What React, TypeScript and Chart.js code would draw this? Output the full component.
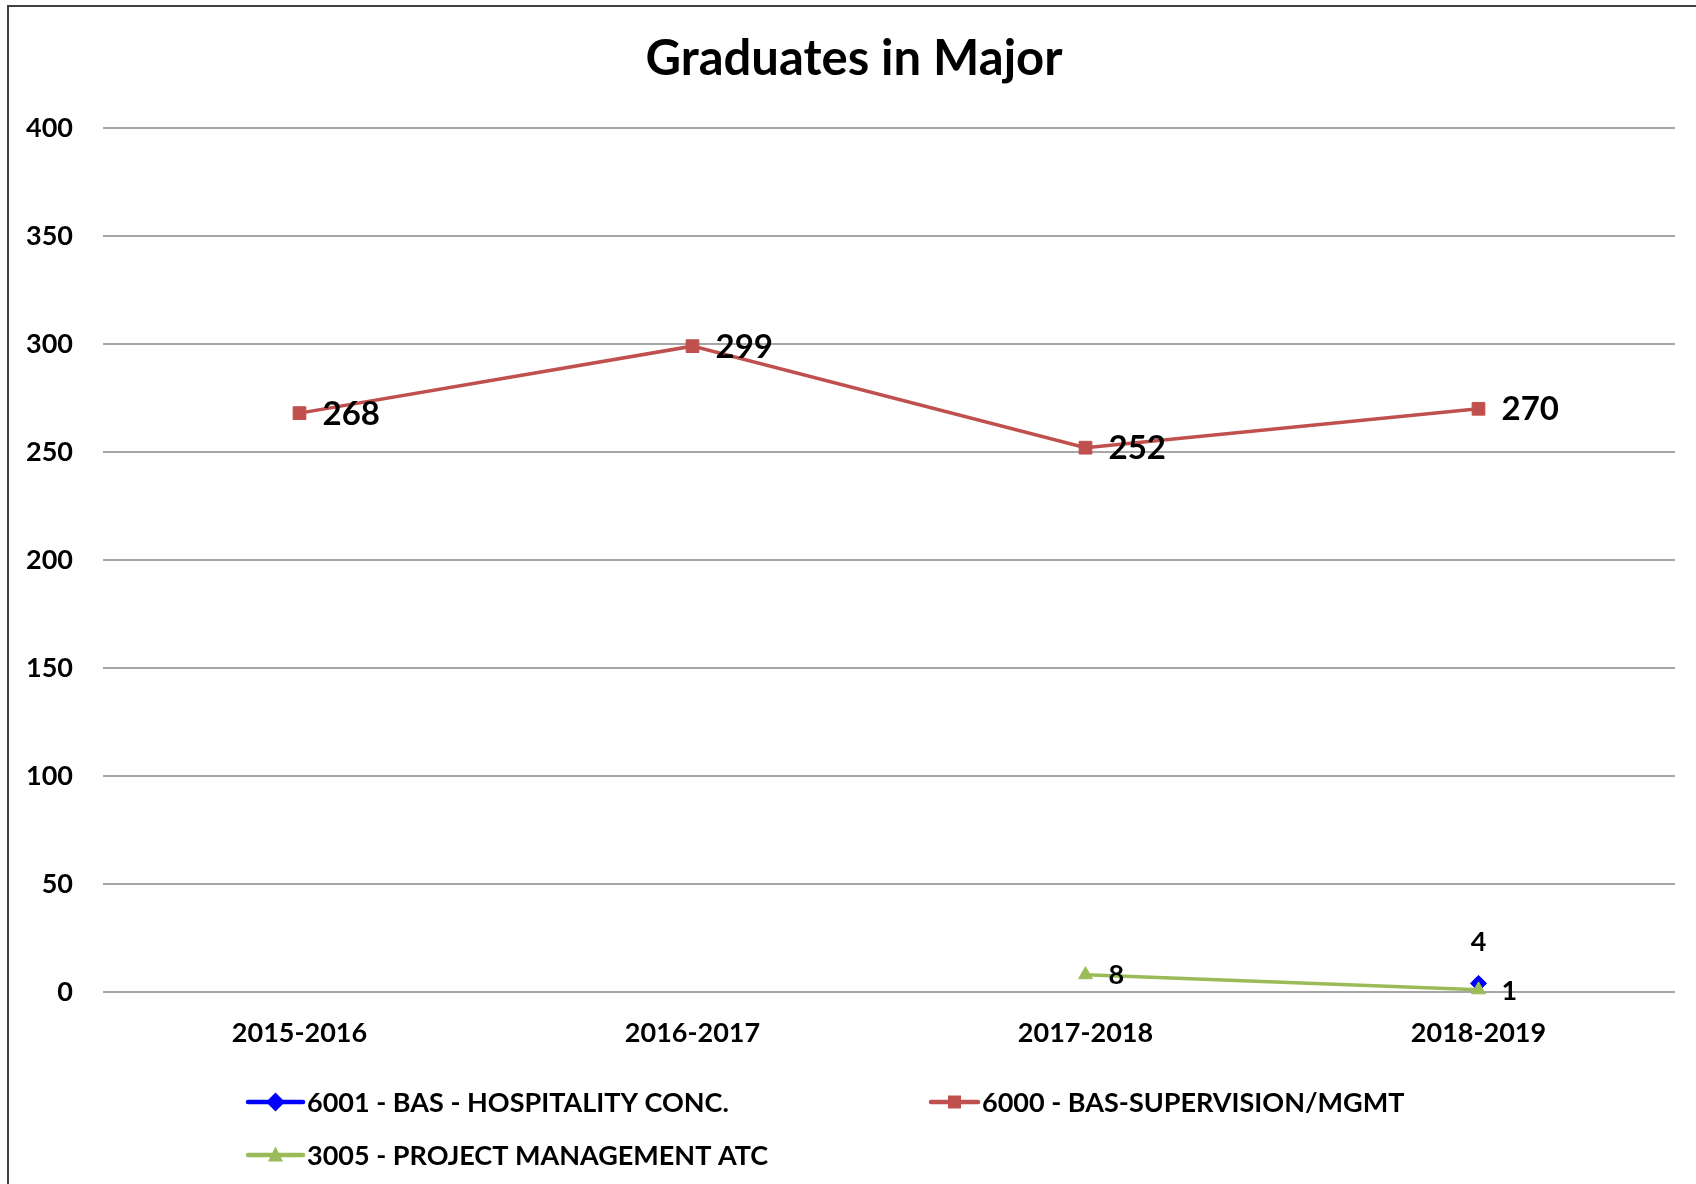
import React, { useEffect, useRef } from 'react';
import { Chart, registerables } from 'chart.js';

Chart.register(...registerables);

const titleText = 'Graduates in Major';
const categories = ['2015-2016', '2016-2017', '2017-2018', '2018-2019'];
const seriesNames = [
  '6001 - BAS - HOSPITALITY CONC.',
  '6000 - BAS-SUPERVISION/MGMT',
  '3005 - PROJECT MANAGEMENT ATC',
];
const hospitalityValues = [null, null, null, 4];
const supervisionValues = [268, 299, 252, 270];
const projectMgmtValues = [null, null, 8, 1];
const yMin = 0;
const yMax = 400;
const yStep = 50;

const FONT = "Lato, 'Open Sans', 'DejaVu Sans', sans-serif";

function drawMarker(ctx: CanvasRenderingContext2D, style: string, x: number, y: number, color: string) {
  ctx.save();
  ctx.fillStyle = color;
  ctx.beginPath();
  if (style === 'rectRot') {
    const r = 9.5;
    ctx.moveTo(x - r, y);
    ctx.lineTo(x, y - r);
    ctx.lineTo(x + r, y);
    ctx.lineTo(x, y + r);
    ctx.closePath();
  } else if (style === 'rect') {
    const s = 6.5;
    ctx.rect(x - s, y - s, 2 * s, 2 * s);
  } else {
    const h = 15;
    const w = 15;
    ctx.moveTo(x, y - h / 2 - 1);
    ctx.lineTo(x + w / 2, y + h / 2 - 1);
    ctx.lineTo(x - w / 2, y + h / 2 - 1);
    ctx.closePath();
  }
  ctx.fill();
  ctx.restore();
}

const framePlugin = {
  id: 'frameAndTitle',
  beforeDraw(chart: any) {
    const ctx = chart.ctx as CanvasRenderingContext2D;
    ctx.save();
    ctx.fillStyle = '#ffffff';
    ctx.fillRect(0, 0, chart.width, chart.height);
    ctx.strokeStyle = '#404040';
    ctx.lineWidth = 2;
    ctx.beginPath();
    ctx.moveTo(8, chart.height + 5);
    ctx.lineTo(8, 6);
    ctx.lineTo(chart.width + 5, 6);
    ctx.stroke();
    ctx.restore();
  },
  afterDraw(chart: any) {
    const ctx = chart.ctx as CanvasRenderingContext2D;
    ctx.save();
    ctx.fillStyle = '#000000';
    ctx.font = `bold 49px ${FONT}`;
    ctx.textAlign = 'center';
    ctx.textBaseline = 'alphabetic';
    ctx.fillText(titleText, 854, 75);
    ctx.restore();
  },
};

const dataLabelPlugin = {
  id: 'valueLabels',
  afterDatasetsDraw(chart: any) {
    const ctx = chart.ctx as CanvasRenderingContext2D;
    ctx.save();
    ctx.fillStyle = '#000000';
    chart.data.datasets.forEach((ds: any, i: number) => {
      const meta = chart.getDatasetMeta(i);
      meta.data.forEach((pt: any, j: number) => {
        const v = ds.data[j];
        if (v === null || v === undefined) return;
        ctx.font = `bold ${ds.labelFontSize}px ${FONT}`;
        if (ds.labelSide === 'above') {
          ctx.textAlign = 'center';
          ctx.textBaseline = 'middle';
          ctx.fillText(String(v), pt.x, pt.y - 41);
        } else {
          ctx.textAlign = 'left';
          ctx.textBaseline = 'middle';
          ctx.fillText(String(v), pt.x + 23, pt.y + 1);
        }
      });
    });
    ctx.restore();
  },
};

const legendLayout = [
  { x: 248, lineLen: 55, y: 1102 },
  { x: 931, lineLen: 47, y: 1102 },
  { x: 248, lineLen: 55, y: 1155 },
];

const legendPlugin = {
  id: 'customLegend',
  afterDraw(chart: any) {
    const ctx = chart.ctx as CanvasRenderingContext2D;
    ctx.save();
    chart.data.datasets.forEach((ds: any, i: number) => {
      const L = legendLayout[i];
      ctx.strokeStyle = ds.borderColor;
      ctx.lineWidth = 4.5;
      ctx.lineCap = 'round';
      ctx.beginPath();
      ctx.moveTo(L.x, L.y);
      ctx.lineTo(L.x + L.lineLen, L.y);
      ctx.stroke();
      drawMarker(ctx, ds.pointStyle, L.x + L.lineLen / 2, L.y, ds.pointBackgroundColor);
      ctx.fillStyle = '#000000';
      ctx.font = `bold 27px ${FONT}`;
      ctx.textAlign = 'left';
      ctx.textBaseline = 'middle';
      ctx.fillText(ds.label, L.x + L.lineLen + 4, L.y + 1);
    });
    ctx.restore();
  },
};

export default function App() {
  const ref = useRef<HTMLCanvasElement>(null);

  useEffect(() => {
    if (!ref.current) return;
    const chart = new Chart(ref.current, {
      type: 'line',
      data: {
        labels: categories,
        datasets: [
          {
            label: seriesNames[0],
            data: hospitalityValues,
            borderColor: '#0000FF',
            backgroundColor: '#0000FF',
            pointBackgroundColor: '#0000FF',
            pointBorderColor: '#0000FF',
            pointStyle: 'rectRot',
            pointRadius: 8,
            pointBorderWidth: 1,
            borderWidth: 3.5,
            order: 2,
            clip: false,
            labelSide: 'above',
            labelFontSize: 27,
          } as any,
          {
            label: seriesNames[1],
            data: supervisionValues,
            borderColor: '#C0504D',
            backgroundColor: '#C0504D',
            pointBackgroundColor: '#C0504D',
            pointBorderColor: '#C0504D',
            pointStyle: 'rect',
            pointRadius: 9,
            pointBorderWidth: 1,
            borderWidth: 3.5,
            order: 1,
            clip: false,
            labelSide: 'right',
            labelFontSize: 33,
          } as any,
          {
            label: seriesNames[2],
            data: projectMgmtValues,
            borderColor: '#9BBB59',
            backgroundColor: '#9BBB59',
            pointBackgroundColor: '#9BBB59',
            pointBorderColor: '#9BBB59',
            pointStyle: 'triangle',
            pointRadius: 8,
            pointBorderWidth: 1,
            borderWidth: 3.5,
            order: 0,
            clip: false,
            labelSide: 'right',
            labelFontSize: 27,
          } as any,
        ],
      },
      options: {
        responsive: false,
        animation: false,
        devicePixelRatio: 1,
        events: [],
        layout: { padding: { top: 128, right: 21, bottom: 122, left: 0 } },
        plugins: {
          legend: { display: false },
          title: { display: false },
          tooltip: { enabled: false },
        },
        scales: {
          x: {
            offset: true,
            grid: { display: false, drawTicks: false },
            border: { display: false },
            ticks: {
              color: '#000000',
              font: { family: FONT, size: 27, weight: 'bold' },
              padding: 25,
              maxRotation: 0,
              autoSkip: false,
            },
            afterFit: (scale: any) => {
              scale.height = 70;
            },
          },
          y: {
            min: yMin,
            max: yMax,
            grid: { color: '#A6A6A6', lineWidth: 2, drawTicks: false },
            border: { display: false },
            ticks: {
              stepSize: yStep,
              color: '#000000',
              font: { family: FONT, size: 27, weight: 'bold' },
              padding: 30,
            },
            afterFit: (scale: any) => {
              scale.width = 103;
            },
          },
        },
      },
      plugins: [framePlugin, dataLabelPlugin, legendPlugin],
    });
    return () => chart.destroy();
  }, []);

  return (
    <div style={{ position: 'fixed', left: 0, top: 0, width: 1696, height: 1184, background: '#fff' }}>
      <canvas ref={ref} width={1696} height={1184} style={{ display: 'block' }} />
    </div>
  );
}
